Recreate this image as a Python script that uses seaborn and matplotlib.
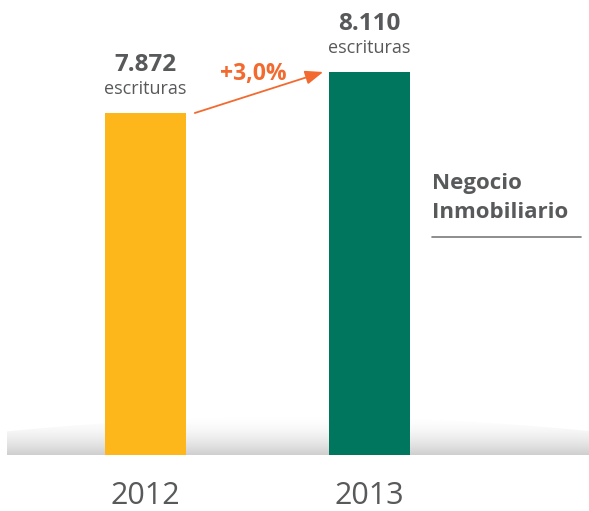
import matplotlib
matplotlib.use("Agg")
import matplotlib.pyplot as plt
import seaborn as sns
import numpy as np
import pandas as pd
from matplotlib.patches import Polygon

years = ["2012", "2013"]
values = [7872, 8110]
value_labels = ["7.872", "8.110"]
unit_label = "escrituras"
change_label = "+3,0%"
title_lines = ["Negocio", "Inmobiliario"]
colors = ["#FDB71A", "#00765F"]

sns.set_theme(style="white")
plt.rcParams["font.family"] = ["Open Sans", "DejaVu Sans"]

W, H = 589, 511
fig = plt.figure(figsize=(W / 100, H / 100), dpi=100)

# background decoration axes in pixel coords (shadow under the bars)
bg = fig.add_axes([0, 0, 1, 1], zorder=0)
bg.set_xlim(0, W)
bg.set_ylim(H, 0)
bg.axis("off")
xs = np.linspace(7, W, 200)
xc, top_mid, top_edge = 300, 417, 431
ys_top = top_mid + (top_edge - top_mid) * ((xs - xc) / (W - xc)) ** 2
poly = np.vstack([np.column_stack([xs, ys_top]), [[W, 455], [7, 455]]])
clip = Polygon(poly, closed=True, facecolor="none", edgecolor="none")
bg.add_patch(clip)
t = np.linspace(0, 1, 256)
grad = (1.0 - 0.19 * t ** 1.8).reshape(-1, 1)
img = bg.imshow(np.dstack([grad, grad, grad]), extent=[7, W, 455, 415],
                aspect="auto", zorder=1, interpolation="bilinear")
img.set_clip_path(clip)

# main axes
base_px = 455
ax = fig.add_axes([0, (H - base_px) / H, 1, base_px / H], zorder=1)
ax.patch.set_alpha(0)
df = pd.DataFrame({"year": years, "value": values})
sns.barplot(data=df, x="year", y="value", hue="year", palette=colors,
            legend=False, width=0.36, saturation=1, linewidth=0, ax=ax)
spacing = 224.0
ax.set_xlim(-145.5 / spacing, (W - 145.5) / spacing)
base = 5887
ppu = 342.0 / (values[0] - base)
ax.set_ylim(base, base + base_px / ppu)
for s in ax.spines.values():
    s.set_visible(False)
ax.set_yticks([])
ax.set_xlabel("")
ax.set_ylabel("")
ax.tick_params(axis="x", length=0, pad=19, labelsize=22, labelcolor="#58595B")

gray = "#58595B"
for i, (v, lab) in enumerate(zip(values, value_labels)):
    ax.annotate(unit_label, xy=(i, v), xytext=(0, 14), textcoords="offset points",
                ha="center", va="baseline", fontsize=13, color=gray)
    ax.annotate(lab, xy=(i, v), xytext=(0, 30), textcoords="offset points",
                ha="center", va="baseline", fontsize=17.5, fontweight="bold", color=gray)

orange = "#F26A30"
dx0 = 0.18 + 9 / spacing
dx1 = 0.18 + 6 / spacing
ax.annotate("", xy=(1 - dx1, values[1]), xytext=(0 + dx0, values[0]),
            arrowprops=dict(arrowstyle="-|>,head_length=0.9,head_width=0.35",
                            color=orange, lw=1.3, shrinkA=0, shrinkB=0))
ax.annotate(change_label, xy=(0.5, values[1]), xytext=(-3, -6),
            textcoords="offset points", ha="center", va="baseline",
            fontsize=16.5, fontweight="bold", color=orange)

fig.text(432 / W, 1 - 183 / H, title_lines[0], ha="left", va="center",
         fontsize=16, fontweight="bold", color=gray)
fig.text(432 / W, 1 - 213 / H, title_lines[1], ha="left", va="center",
         fontsize=16, fontweight="bold", color=gray)
fig.add_artist(plt.Line2D([432 / W, 581 / W], [1 - 237 / H, 1 - 237 / H],
                          color="#7a7a7a", lw=1.2))

fig.savefig("out.png", dpi=100, facecolor="white")
